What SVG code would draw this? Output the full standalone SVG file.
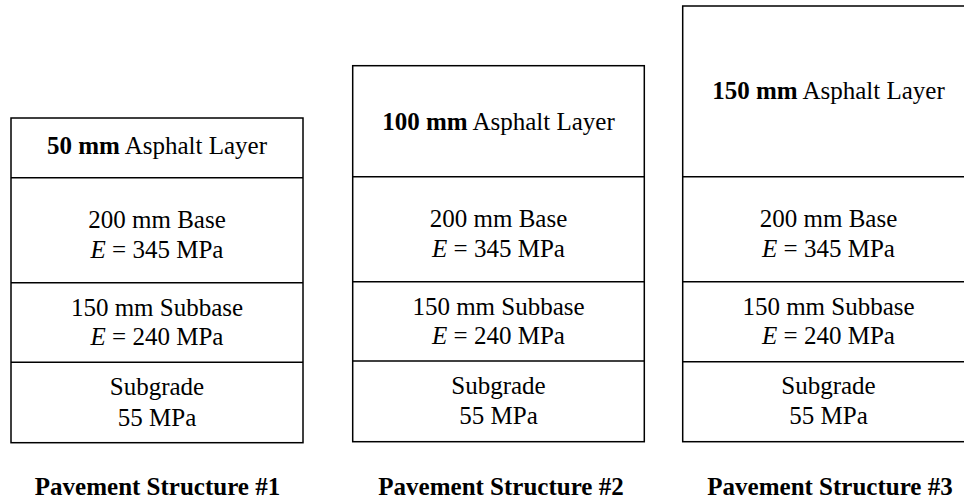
<svg xmlns="http://www.w3.org/2000/svg" width="964" height="501" viewBox="0 0 964 501">
<style>
.box{fill:#fff;stroke:#000;stroke-width:1.5}
.ln{stroke:#000;stroke-width:1.5}
text{font-family:"Liberation Serif","Times New Roman",serif;font-size:25px;fill:#000;text-anchor:middle}
.b{font-weight:bold}
.i{font-style:italic}
</style>
<rect width="964" height="501" fill="#fff"/>
<g id="structure1">
<rect class="box" x="11" y="118" width="292" height="324.7"/>
<line class="ln" x1="11" y1="177.7" x2="303" y2="177.7"/>
<line class="ln" x1="11" y1="282.7" x2="303" y2="282.7"/>
<line class="ln" x1="11" y1="362.3" x2="303" y2="362.3"/>
<text x="157" y="154"><tspan class="b">50 mm</tspan> Asphalt Layer</text>
<text x="157" y="228.3">200 mm Base</text>
<text x="157" y="257.5"><tspan class="i">E</tspan> = 345 MPa</text>
<text x="157" y="315.5">150 mm Subbase</text>
<text x="157" y="345"><tspan class="i">E</tspan> = 240 MPa</text>
<text x="157" y="395">Subgrade</text>
<text x="157" y="425.5">55 MPa</text>
<text class="b" x="157.5" y="495">Pavement Structure #1</text>
</g>
<g id="structure2">
<rect class="box" x="352.7" y="65.7" width="291.6" height="376"/>
<line class="ln" x1="352.7" y1="176.7" x2="644.3" y2="176.7"/>
<line class="ln" x1="352.7" y1="281.7" x2="644.3" y2="281.7"/>
<line class="ln" x1="352.7" y1="361" x2="644.3" y2="361"/>
<text x="498.5" y="130"><tspan class="b">100 mm</tspan> Asphalt Layer</text>
<text x="498.5" y="227.3">200 mm Base</text>
<text x="498.5" y="256.5"><tspan class="i">E</tspan> = 345 MPa</text>
<text x="498.5" y="314.5">150 mm Subbase</text>
<text x="498.5" y="344"><tspan class="i">E</tspan> = 240 MPa</text>
<text x="498.5" y="394">Subgrade</text>
<text x="498.5" y="423.5">55 MPa</text>
<text class="b" x="501" y="495">Pavement Structure #2</text>
</g>
<g id="structure3">
<rect class="box" x="682.7" y="6" width="292" height="435.7"/>
<line class="ln" x1="682.7" y1="176.7" x2="975" y2="176.7"/>
<line class="ln" x1="682.7" y1="281.7" x2="975" y2="281.7"/>
<line class="ln" x1="682.7" y1="361.7" x2="975" y2="361.7"/>
<text x="828.5" y="99"><tspan class="b">150 mm</tspan> Asphalt Layer</text>
<text x="828.5" y="227.3">200 mm Base</text>
<text x="828.5" y="256.5"><tspan class="i">E</tspan> = 345 MPa</text>
<text x="828.5" y="315">150 mm Subbase</text>
<text x="828.5" y="344.3"><tspan class="i">E</tspan> = 240 MPa</text>
<text x="828.5" y="394">Subgrade</text>
<text x="828.5" y="424.3">55 MPa</text>
<text class="b" x="830" y="495">Pavement Structure #3</text>
</g>
<g id="connectors"/>
</svg>
